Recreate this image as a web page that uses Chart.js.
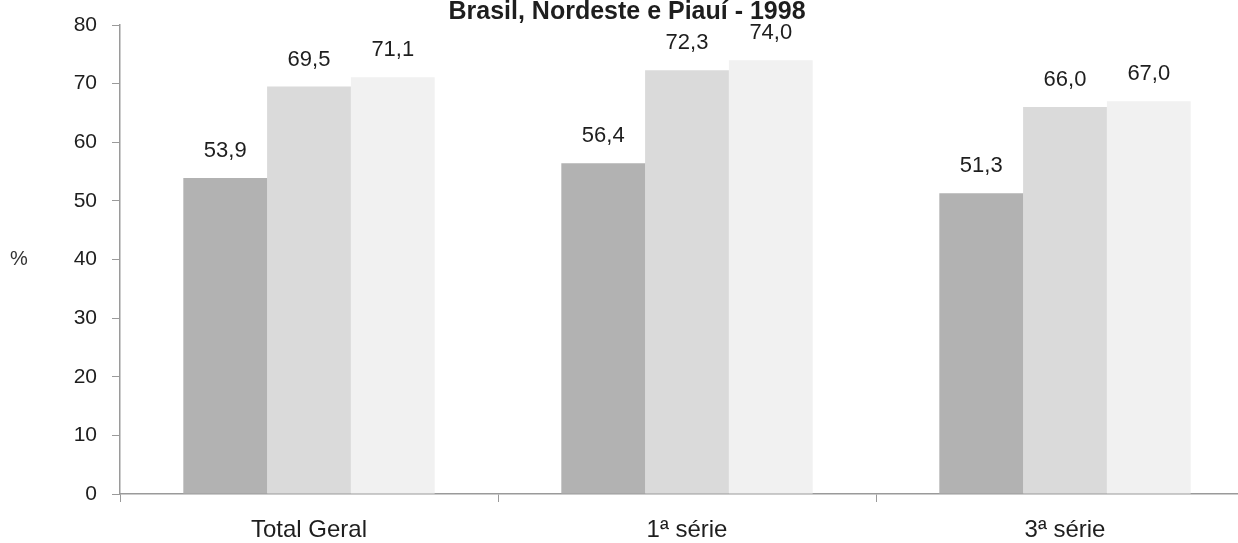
<!DOCTYPE html>
<html>
<head>
<meta charset="utf-8">
<script src="https://cdn.jsdelivr.net/npm/chart.js@4/dist/chart.umd.min.js"></script>
<style>
  html, body { margin: 0; padding: 0; background: #ffffff; overflow: hidden; }
  #wrap { position: relative; width: 1254px; height: 543px; }
</style>
</head>
<body>
<div id="wrap"><canvas id="c"></canvas></div>
<script>
const titleText = 'Brasil, Nordeste e Piauí - 1998';
const categories = ['Total Geral', '1ª série', '3ª série'];
const seriesNames = ['Brasil', 'Nordeste', 'Piauí'];
const brasil = [53.9, 56.4, 51.3];
const nordeste = [69.5, 72.3, 66.0];
const piaui = [71.1, 74.0, 67.0];
const yTicks = [0, 10, 20, 30, 40, 50, 60, 70, 80];
const yAxisLabel = '%';

const FONT = "'Liberation Sans', Arial, Helvetica, sans-serif";
const TEXT = '#1e1e1e';
const AXIS = '#9a9a9a';

const valueLabels = {
  id: 'valueLabels',
  afterDatasetsDraw(chart) {
    const ctx = chart.ctx;
    ctx.save();
    ctx.font = '22px ' + FONT;
    ctx.fillStyle = TEXT;
    ctx.textAlign = 'center';
    ctx.textBaseline = 'middle';
    chart.data.datasets.forEach((ds, i) => {
      const meta = chart.getDatasetMeta(i);
      meta.data.forEach((bar, j) => {
        const v = ds.data[j];
        ctx.fillText(v.toFixed(1).replace('.', ','), bar.x, bar.y - 27);
      });
    });
    ctx.restore();
  }
};

const yUnit = {
  id: 'yUnit',
  afterDraw(chart) {
    const ctx = chart.ctx;
    const a = chart.chartArea;
    ctx.save();
    ctx.font = '20px ' + FONT;
    ctx.fillStyle = '#333333';
    ctx.textAlign = 'center';
    ctx.textBaseline = 'middle';
    ctx.fillText(yAxisLabel, a.left - 101, (a.top + a.bottom) / 2);
    ctx.restore();
  }
};

new Chart(document.getElementById('c'), {
  type: 'bar',
  data: {
    labels: categories,
    datasets: [
      { label: seriesNames[0], data: brasil, backgroundColor: '#b2b2b2' },
      { label: seriesNames[1], data: nordeste, backgroundColor: '#dadada' },
      { label: seriesNames[2], data: piaui, backgroundColor: '#f1f1f1' }
    ]
  },
  options: {
    responsive: true,
    maintainAspectRatio: false,
    animation: false,
    layout: { padding: { left: 0, right: 0, top: 0, bottom: 0 } },
    datasets: { bar: { barPercentage: 1.0, categoryPercentage: 0.665 } },
    plugins: {
      legend: { display: false },
      tooltip: { enabled: false },
      title: {
        display: true,
        text: titleText,
        color: TEXT,
        font: { family: FONT, size: 25, weight: 'bold', lineHeight: 1.0 },
        padding: { top: 0, bottom: 0 }
      }
    },
    scales: {
      x: {
        afterFit(scale) { scale.height = 49; },
        grid: { display: true, drawOnChartArea: false, offset: true, tickLength: 8, color: AXIS },
        border: { color: AXIS, width: 1.5 },
        ticks: { color: TEXT, font: { family: FONT, size: 24 }, padding: 14, maxRotation: 0 }
      },
      y: {
        min: 0,
        max: 80,
        afterBuildTicks(scale) { scale.ticks = yTicks.map(v => ({ value: v })); },
        afterFit(scale) { scale.width = 120; scale.paddingTop = 0; },
        grid: { display: true, drawOnChartArea: false, tickLength: 8, color: AXIS },
        border: { color: AXIS, width: 1.5 },
        ticks: { color: TEXT, font: { family: FONT, size: 21, lineHeight: 1.0 }, padding: 15 }
      }
    }
  },
  plugins: [valueLabels, yUnit]
});
</script>
</body>
</html>
